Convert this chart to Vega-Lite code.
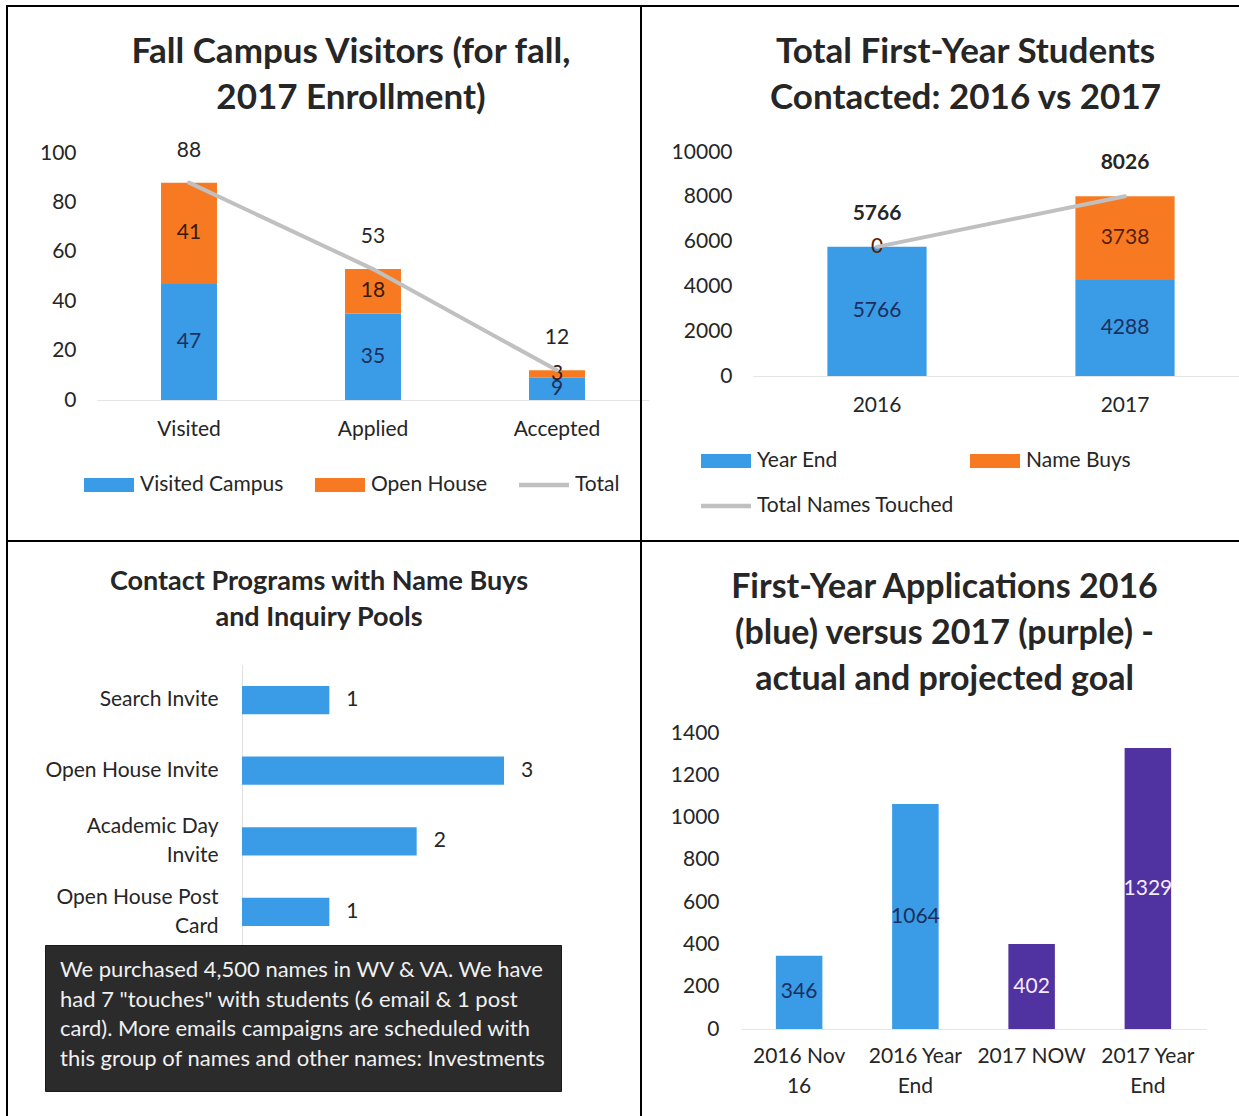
{
  "$schema": "https://vega.github.io/schema/vega-lite/v6.json",
  "background": "white",
  "padding": {"left": 6, "top": 5, "right": 0, "bottom": 0},
  "columns": 2,
  "spacing": 0,
  "align": "each",
  "bounds": "flush",
  "resolve": {"scale": {"color": "independent", "x": "independent", "y": "independent"}, "legend": {"color": "independent"}},
  "config": {
    "font": "Lato",
    "view": {"stroke": "#000000", "strokeWidth": 2},
    "axis": {"labelFont": "Lato", "labelColor": "#262626", "labelFontSize": 21, "grid": false, "ticks": false, "domain": false, "title": null},
    "legend": {"labelFont": "Lato", "labelColor": "#262626", "labelFontSize": 21, "titleFont": "Lato", "labelLimit": 400},
    "title": {"font": "Lato", "color": "#262626", "fontWeight": "bold", "anchor": "middle", "frame": "group", "baseline": "top"}
  },
  "concat": [
    {
      "width": 634, "height": 535,
      "title": {"text": ["Fall Campus Visitors (for fall,", "2017 Enrollment)"], "fontSize": 35, "lineHeight": 46, "dx": 27, "offset": -110},
      "layer": [
        {
          "data": {"values": [
            {"stage": "Visited", "series": "Visited Campus", "value": 47},
            {"stage": "Visited", "series": "Open House", "value": 41},
            {"stage": "Applied", "series": "Visited Campus", "value": 35},
            {"stage": "Applied", "series": "Open House", "value": 18},
            {"stage": "Accepted", "series": "Visited Campus", "value": 9},
            {"stage": "Accepted", "series": "Open House", "value": 3}
          ]},
          "transform": [
            {"calculate": "datum.series === 'Visited Campus' ? 0 : 1", "as": "ord"},
            {"stack": "value", "groupby": ["stage"], "sort": [{"field": "ord", "order": "ascending"}], "as": ["v0", "v1"]},
            {"calculate": "(datum.v0 + datum.v1) / 2", "as": "mid"}
          ],
          "layer": [
            {
              "mark": {"type": "bar"},
              "encoding": {
                "x": {"field": "stage", "type": "nominal", "scale": {"domain": ["Visited", "Applied", "Accepted"], "range": [90, 642], "paddingInner": 0.696, "paddingOuter": 0.348},
                      "axis": {"orient": "bottom", "offset": -141, "labelPadding": 18, "labelAngle": 0, "domain": true, "domainColor": "#e4e4e4"}},
                "y": {"field": "v0", "type": "quantitative", "scale": {"domain": [0, 100], "range": [394, 147], "nice": false},
                      "axis": {"values": [0, 20, 40, 60, 80, 100], "offset": -81, "labelPadding": 12}},
                "y2": {"field": "v1"},
                "color": {"field": "series", "type": "nominal",
                          "scale": {"domain": ["Visited Campus", "Open House", "Total"], "range": ["#3a9be6", "#f77a22", "#c0c0c0"]},
                          "legend": {"orient": "none", "legendX": 77, "legendY": 454, "direction": "horizontal", "columns": 3, "title": null,
                                     "symbolType": "M-1,-0.28H1V0.28H-1Z", "symbolSize": 2500, "symbolStrokeWidth": 0, "labelOffset": 6, "columnPadding": 31,
                                     "encode": {"symbols": {"update": {"shape": {"signal": "datum.value === 'Total' ? 'M-1,-0.09H1V0.09H-1Z' : 'M-1,-0.28H1V0.28H-1Z'"}}}}}}
              }
            },
            {
              "mark": {"type": "text", "fontSize": 21},
              "encoding": {
                "x": {"field": "stage", "type": "nominal"},
                "y": {"field": "mid", "type": "quantitative"},
                "text": {"field": "value"},
                "color": {"condition": {"test": "datum.series === 'Visited Campus'", "value": "#1c2f5e"}, "value": "#3a1a0a"}
              }
            }
          ]
        },
        {
          "data": {"values": [
            {"stage": "Visited", "total": 88},
            {"stage": "Applied", "total": 53},
            {"stage": "Accepted", "total": 12}
          ]},
          "layer": [
            {
              "mark": {"type": "line", "strokeWidth": 4, "strokeCap": "round"},
              "encoding": {
                "x": {"field": "stage", "type": "nominal"},
                "y": {"field": "total", "type": "quantitative"},
                "color": {"datum": "Total"}
              }
            },
            {
              "mark": {"type": "text", "fontSize": 21, "dy": -32, "color": "#262626"},
              "encoding": {
                "x": {"field": "stage", "type": "nominal"},
                "y": {"field": "total", "type": "quantitative"},
                "text": {"field": "total"}
              }
            }
          ]
        }
      ]
    },
    {
      "width": 599, "height": 535,
      "title": {"text": ["Total First-Year Students", "Contacted: 2016 vs 2017"], "fontSize": 35, "lineHeight": 46, "dx": 25, "offset": -110},
      "layer": [
        {
          "data": {"values": [
            {"yr": "2016", "series": "Year End", "value": 5766},
            {"yr": "2016", "series": "Name Buys", "value": 0},
            {"yr": "2017", "series": "Year End", "value": 4288},
            {"yr": "2017", "series": "Name Buys", "value": 3738}
          ]},
          "transform": [
            {"calculate": "datum.series === 'Year End' ? 0 : 1", "as": "ord"},
            {"stack": "value", "groupby": ["yr"], "sort": [{"field": "ord", "order": "ascending"}], "as": ["v0", "v1"]},
            {"calculate": "(datum.v0 + datum.v1) / 2", "as": "mid"}
          ],
          "layer": [
            {
              "mark": {"type": "bar"},
              "encoding": {
                "x": {"field": "yr", "type": "nominal", "scale": {"domain": ["2016", "2017"], "range": [112, 608], "paddingInner": 0.6, "paddingOuter": 0.3},
                      "axis": {"orient": "bottom", "offset": -165, "labelPadding": 18, "labelAngle": 0, "domain": true, "domainColor": "#e4e4e4"}},
                "y": {"field": "v0", "type": "quantitative", "scale": {"domain": [0, 10000], "range": [370, 146], "nice": false},
                      "axis": {"values": [0, 2000, 4000, 6000, 8000, 10000], "format": "d", "offset": -103, "labelPadding": 12}},
                "y2": {"field": "v1"},
                "color": {"field": "series", "type": "nominal",
                          "scale": {"domain": ["Year End", "Name Buys", "Total Names Touched"], "range": ["#3a9be6", "#f77a22", "#c0c0c0"]},
                          "legend": {"orient": "none", "legendX": 60, "legendY": 430, "direction": "horizontal", "columns": 2, "gridAlign": "all", "title": null,
                                     "symbolType": "M-1,-0.28H1V0.28H-1Z", "symbolSize": 2500, "symbolStrokeWidth": 0, "labelOffset": 6, "columnPadding": 16, "rowPadding": 10,
                                     "encode": {"symbols": {"update": {"shape": {"signal": "datum.value === 'Total Names Touched' ? 'M-1,-0.09H1V0.09H-1Z' : 'M-1,-0.28H1V0.28H-1Z'"}}}}}}
              }
            },
            {
              "mark": {"type": "text", "fontSize": 21},
              "encoding": {
                "x": {"field": "yr", "type": "nominal"},
                "y": {"field": "mid", "type": "quantitative"},
                "text": {"field": "value"},
                "color": {"condition": {"test": "datum.series === 'Year End'", "value": "#1c2f5e"}, "value": "#5a1c06"}
              }
            }
          ]
        },
        {
          "data": {"values": [
            {"yr": "2016", "total": 5766},
            {"yr": "2017", "total": 8026}
          ]},
          "layer": [
            {
              "mark": {"type": "line", "strokeWidth": 4, "strokeCap": "round"},
              "encoding": {
                "x": {"field": "yr", "type": "nominal"},
                "y": {"field": "total", "type": "quantitative"},
                "color": {"datum": "Total Names Touched"}
              }
            },
            {
              "mark": {"type": "text", "fontSize": 21, "fontWeight": "bold", "dy": -33, "color": "#262626"},
              "encoding": {
                "x": {"field": "yr", "type": "nominal"},
                "y": {"field": "total", "type": "quantitative"},
                "text": {"field": "total"}
              }
            }
          ]
        }
      ]
    },
    {
      "width": 634, "height": 576,
      "title": {"text": ["Contact Programs with Name Buys", "and Inquiry Pools"], "fontSize": 27, "lineHeight": 36, "dx": -5, "offset": -91},
      "data": {"values": [
        {"program": "Search Invite", "count": 1},
        {"program": "Open House Invite", "count": 3},
        {"program": "Academic Day Invite", "count": 2},
        {"program": "Open House Post Card", "count": 1}
      ]},
      "layer": [
        {
          "mark": {"type": "bar"},
          "encoding": {
            "y": {"field": "program", "type": "nominal",
                  "scale": {"domain": ["Search Invite", "Open House Invite", "Academic Day Invite", "Open House Post Card"], "range": [123.7, 406.3], "paddingInner": 0.6, "paddingOuter": 0.3},
                  "axis": {"offset": -235, "labelPadding": 24, "domain": true, "domainColor": "#e0e0e0", "labelLineHeight": 29,
                           "labelBaseline": {"condition": {"test": "datum.value === 'Academic Day Invite' || datum.value === 'Open House Post Card'", "value": "line-bottom"}, "value": "middle"},
                           "labelExpr": "datum.value === 'Academic Day Invite' ? ['Academic Day', 'Invite'] : datum.value === 'Open House Post Card' ? ['Open House Post', 'Card'] : datum.value"}},
            "x": {"field": "count", "type": "quantitative", "scale": {"domain": [0, 3], "range": [235, 497], "nice": false}, "axis": null},
            "color": {"datum": "programs", "type": "nominal", "scale": {"range": ["#3a9be6"]},
                      "legend": {"orient": "none", "legendX": 38, "legendY": 404, "fillColor": "#2b2b2b", "strokeColor": "#1a1a1a", "padding": 15,
                                 "title": ["We purchased 4,500 names in WV & VA. We have", "had 7 \"touches\" with students (6 email & 1 post", "card).  More emails campaigns are scheduled with", "this group of names and other names: Investments"],
                                 "titleFontSize": 22, "titleFontWeight": "normal", "titleColor": "#f0f0f0", "titleLineHeight": 29.5, "titleLimit": 800, "titlePadding": 0,
                                 "symbolSize": 0, "symbolOpacity": 0, "labelFontSize": 0, "labelOpacity": 0}}
          }
        },
        {
          "mark": {"type": "text", "fontSize": 21, "align": "left", "dx": 17, "color": "#262626"},
          "encoding": {
            "y": {"field": "program", "type": "nominal"},
            "x": {"field": "count", "type": "quantitative"},
            "text": {"field": "count"}
          }
        }
      ]
    },
    {
      "width": 599, "height": 576,
      "title": {"text": ["First-Year Applications 2016", "(blue) versus 2017 (purple) -", "actual and projected goal"], "fontSize": 34, "lineHeight": 46, "dx": 4, "offset": -156},
      "data": {"values": [
        {"period": "2016 Nov 16", "year": "2016", "apps": 346},
        {"period": "2016 Year End", "year": "2016", "apps": 1064},
        {"period": "2017 NOW", "year": "2017", "apps": 402},
        {"period": "2017 Year End", "year": "2017", "apps": 1329}
      ]},
      "transform": [{"calculate": "datum.apps / 2", "as": "half"}],
      "layer": [
        {
          "mark": {"type": "bar"},
          "encoding": {
            "x": {"field": "period", "type": "nominal",
                  "scale": {"domain": ["2016 Nov 16", "2016 Year End", "2017 NOW", "2017 Year End"], "range": [100, 565], "paddingInner": 0.6, "paddingOuter": 0.3},
                  "axis": {"orient": "bottom", "offset": -88, "labelPadding": 16, "labelAngle": 0, "labelLineHeight": 30, "domain": true, "domainColor": "#e4e4e4",
                           "labelExpr": "datum.value === '2016 Nov 16' ? ['2016 Nov', '16'] : datum.value === '2016 Year End' ? ['2016 Year', 'End'] : datum.value === '2017 Year End' ? ['2017 Year', 'End'] : datum.value"}},
            "y": {"field": "apps", "type": "quantitative", "scale": {"domain": [0, 1400], "range": [488, 192], "nice": false},
                  "axis": {"values": [0, 200, 400, 600, 800, 1000, 1200, 1400], "format": "d", "offset": -90, "labelPadding": 12}},
            "color": {"field": "year", "type": "nominal", "scale": {"domain": ["2016", "2017"], "range": ["#3a9be6", "#5032a0"]}, "legend": null}
          }
        },
        {
          "mark": {"type": "text", "fontSize": 21},
          "encoding": {
            "x": {"field": "period", "type": "nominal"},
            "y": {"field": "half", "type": "quantitative"},
            "text": {"field": "apps"},
            "color": {"condition": {"test": "datum.year === '2016'", "value": "#1c2f5e"}, "value": "#f3ecff"}
          }
        }
      ]
    }
  ]
}
